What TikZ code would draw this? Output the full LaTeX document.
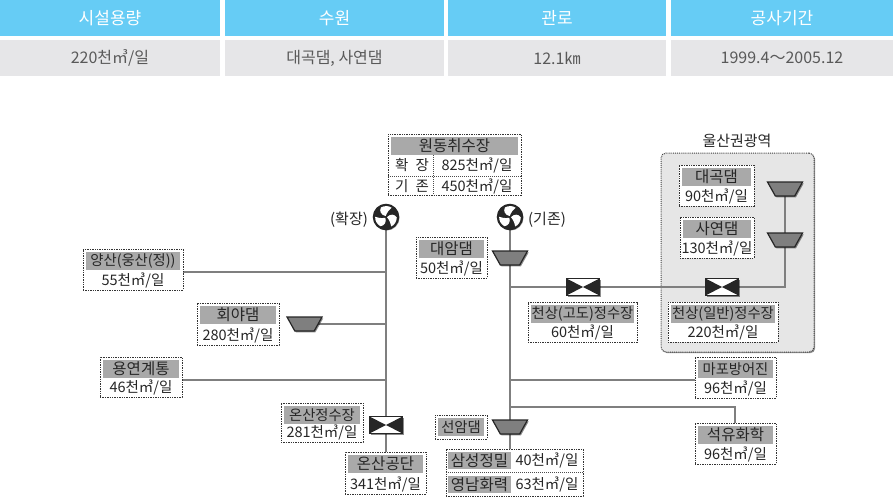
\documentclass[tikz,border=0pt]{standalone}
\usepackage{fontspec}
\setmainfont{Noto Sans CJK KR}
\usetikzlibrary{shapes.geometric,shadows,backgrounds}
\definecolor{headblue}{HTML}{66CCF5}
\definecolor{rowgray}{HTML}{E6E6E8}
\definecolor{bandgray}{HTML}{A9A9A9}
\definecolor{pipegray}{HTML}{7F7F7F}
\definecolor{inkdark}{HTML}{262626}
\definecolor{regiongray}{HTML}{E6E6E6}
\newcommand{\longtitle}{\fontsize{14.3}{15}\selectfont}
\tikzset{
  sized/.style={inner sep=0pt,outer sep=0pt,anchor=center},
  headcell/.style={sized,fill=headblue,text=white,font=\fontsize{17}{17}\selectfont},
  rowcell/.style={sized,fill=rowgray,text=black!65,font=\fontsize{16}{16}\selectfont},
  infobox/.style={sized,draw=black!80,dash pattern=on 1.4pt off 1pt,line width=.7pt,fill=white},
  band/.style={sized,fill=bandgray,text=inkdark,font=\fontsize{15.5}{15.5}\selectfont},
  valtext/.style={sized,text=inkdark,font=\fontsize{14.5}{15}\selectfont},
  plain/.style={sized,text=inkdark,font=\fontsize{15}{15}\selectfont},
  pipe/.style={draw=pipegray,line width=2pt},
  divider/.style={draw=black!70,dash pattern=on 1pt off 1pt,line width=.6pt},
  region/.style={sized,draw=black!75,dash pattern=on .9pt off 1pt,line width=1pt,fill=regiongray,rounded corners=5pt,
    drop shadow={shadow xshift=1.2pt,shadow yshift=-1.2pt,opacity=.45,fill=black}},
  dam/.style={sized,inner sep=2pt,trapezium,shape border rotate=180,trapezium stretches=true,trapezium left angle=68,trapezium right angle=68,
    minimum width=35pt,minimum height=14pt,fill=pipegray,draw=inkdark,line width=1.2pt,
    drop shadow={shadow xshift=1.2pt,shadow yshift=-1.4pt,opacity=.45,fill=black}},
  valve/.style={sized,rectangle,minimum width=33pt,minimum height=17pt,fill=white,draw=inkdark,line width=.9pt,
    drop shadow={shadow xshift=1.2pt,shadow yshift=-1.4pt,opacity=.45,fill=black}},
  fan/.style={sized,circle,minimum size=25.5pt,fill=inkdark,draw=inkdark,line width=1pt,
    drop shadow={shadow xshift=.8pt,shadow yshift=-.8pt,opacity=.35,fill=black}},
  blade/.style={fill=white,draw=none},
}
% rect node given by its corners: name, x0,y0,x1,y1, style, text
\newcommand{\rectnode}[7]{%
  \pgfmathsetmacro{\cx}{(#2+#4)/2}\pgfmathsetmacro{\cy}{(#3+#5)/2}%
  \pgfmathsetmacro{\ww}{#4-#2}\pgfmathsetmacro{\hh}{#5-#3}%
  \node[#6,minimum width=\ww pt,minimum height=\hh pt] (#1) at (\cx,\cy) {#7};}
% standard info box: name, x0,y0,x1,y1, title, value
\newcommand{\infonode}[7]{%
  \rectnode{#1}{#2}{#3}{#4}{#5}{infobox}{}%
  \pgfmathsetmacro{\bx}{#2+3}\pgfmathsetmacro{\bX}{#4-3}\pgfmathsetmacro{\by}{#3+3}\pgfmathsetmacro{\bY}{#3+21}%
  \rectnode{#1t}{\bx}{\by}{\bX}{\bY}{band}{#6}%
  \pgfmathsetmacro{\vy}{#5-10}\pgfmathsetmacro{\vx}{(#2+#4)/2}%
  \node[valtext] (#1v) at (\vx,\vy) {#7};}
\newcommand{\fanblades}[1]{%
  \foreach \a in {20,140,260}{
    \fill[blade,shift={(#1.center)},rotate=\a]
      (0,-1) .. controls (-4,-3.5) and (-4.5,-8) .. (-1.5,-10.7)
      .. controls (2,-11.2) and (6.5,-10) .. (8.4,-6.8)
      .. controls (6,-6) and (3,-4.5) .. (0,-1) -- cycle;}}
\newcommand{\valvefill}[1]{%
  \fill[inkdark] (#1.north west) -- (#1.center) -- (#1.south west) -- cycle;
  \fill[inkdark] (#1.north east) -- (#1.center) -- (#1.south east) -- cycle;}
\begin{document}
\begin{tikzpicture}[x=1pt,y=-1pt]
\useasboundingbox (0,0) rectangle (893,500);
% table
\rectnode{h1}{0}{0}{220}{36}{headcell}{시설용량}
\rectnode{h2}{225}{0}{444}{36}{headcell}{수원}
\rectnode{h3}{448}{0}{666}{36}{headcell}{관로}
\rectnode{h4}{671}{0}{893}{36}{headcell}{공사기간}
\rectnode{r1}{0}{40}{220}{76}{rowcell}{220천㎥/일}
\rectnode{r2}{225}{40}{444}{76}{rowcell}{대곡댐, 사연댐}
\rectnode{r3}{448}{40}{666}{76}{rowcell}{12.1㎞}
\rectnode{r4}{671}{40}{893}{76}{rowcell}{1999.4～2005.12}
% region
\begin{pgfonlayer}{background}
\rectnode{ulsan}{661}{153}{814}{352}{region}{}
\end{pgfonlayer}
\node[plain] (ulsanlabel) at (737,141) {울산권광역};
% intake box
\rectnode{wondong}{388}{134}{521}{195}{infobox}{}
\rectnode{wondongt}{391}{137}{518}{155}{band}{원동취수장}
\node[valtext] (wa) at (412,165.5) {확\hspace{.5em}장};
\node[valtext] (wb) at (477,165.5) {825천㎥/일};
\node[valtext] (wc) at (412,186) {기\hspace{.5em}존};
\node[valtext] (wd) at (477,186) {450천㎥/일};
\draw[divider] (wondong.west |- 0,176) -- (wondong.east |- 0,176);
\draw[divider] (433,155) -- (433,195);
% fans
\node[fan] (fanL) at (386,217) {};
\fanblades{fanL}
\node[fan] (fanR) at (510,217) {};
\fanblades{fanR}
\node[plain] (lblL) at (349,220) {(확장)};
\node[plain] (lblR) at (547,220) {(기존)};
% info boxes
\infonode{yangsan}{83}{249}{183}{290}{\longtitle 양산(웅산(정))}{55천㎥/일}
\infonode{hoeya}{197}{303}{279}{345}{회야댐}{280천㎥/일}
\infonode{yongyeon}{100}{357}{182}{397}{용연계통}{46천㎥/일}
\infonode{onsanw}{281}{403}{363}{442}{\longtitle 온산정수장}{281천㎥/일}
\infonode{onsan}{345}{452}{426}{494}{온산공단}{341천㎥/일}
\infonode{daeam}{416}{237}{487}{278}{대암댐}{50천㎥/일}
\infonode{cheonA}{528}{302}{637}{342}{\longtitle 천상(고도)정수장}{60천㎥/일}
\infonode{cheonB}{668}{302}{778}{342}{\longtitle 천상(일반)정수장}{220천㎥/일}
\infonode{daegok}{679}{165}{754}{206}{대곡댐}{90천㎥/일}
\infonode{sayeon}{680}{217}{754}{258}{사연댐}{130천㎥/일}
\infonode{mapo}{695}{357}{776}{398}{\longtitle 마포방어진}{96천㎥/일}
\infonode{seokyu}{695}{423}{776}{464}{석유화학}{96천㎥/일}
% seonam
\rectnode{seonam}{435}{415}{487}{439}{infobox}{}
\rectnode{seonamt}{438}{418}{484}{436}{band}{\longtitle 선암댐}
% samsung / yeongnam
\rectnode{users}{446}{449}{583}{496}{infobox}{}
\rectnode{usersa}{448}{452}{511}{469}{band}{삼성정밀}
\rectnode{usersb}{448}{476}{511}{493}{band}{영남화력}
\node[valtext] (usersc) at (547,460.5) {40천㎥/일};
\node[valtext] (usersd) at (547,484.5) {63천㎥/일};
\draw[divider] (users.west |- 0,472) -- (users.east |- 0,472);
% dams
\node[dam] (damDaeam) at (510,258) {};
\node[dam] (damHoeya) at (304.5,324) {};
\node[dam] (damSeonam) at (510,427) {};
\node[dam] (damDaegok) at (785,189) {};
\node[dam] (damSayeon) at (785,240) {};
% valves
\node[valve] (vA) at (583,287) {};
\valvefill{vA}
\node[valve] (vB) at (722,287) {};
\valvefill{vB}
\node[valve] (vC) at (386,425) {};
\valvefill{vC}
% junctions
\coordinate (jY) at (fanL |- 0,272);
\coordinate (jH) at (fanL |- damHoeya);
\coordinate (jO) at (fanL |- 0,380);
\coordinate (jA) at (fanR |- vA);
\coordinate (jM) at (fanR |- 0,380);
\coordinate (jS) at (fanR |- 0,407);
\coordinate (cE) at (damDaegok |- vB);
\coordinate (cS) at (seokyu.north -| 735,0);
% pipes
\begin{pgfonlayer}{background}
\draw[pipe] (fanL) -- (vC);
\draw[pipe] (vC) -- (vC |- onsan.north);
\draw[pipe] (fanR) -- (damDaeam);
\draw[pipe] (damDaeam) -- (damSeonam);
\draw[pipe] (damSeonam) -- (damSeonam |- users.north);
\draw[pipe] (yangsan.east |- jY) -- (jY);
\draw[pipe] (damHoeya) -- (jH);
\draw[pipe] (yongyeon.east |- jO) -- (jO);
\draw[pipe] (jA) -- (vA);
\draw[pipe] (vA) -- (vB);
\draw[pipe] (vB) -- (cE) -- (damSayeon);
\draw[pipe] (damSayeon) -- (damDaegok);
\draw[pipe] (jM) -- (mapo.west |- jM);
\draw[pipe] (jS) -- (cS |- jS) -- (cS);
\end{pgfonlayer}
\end{tikzpicture}
\end{document}
